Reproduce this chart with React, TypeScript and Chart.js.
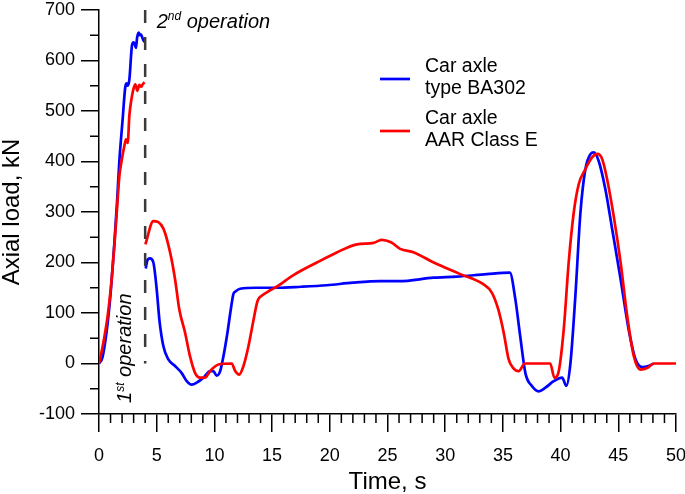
import React, { useEffect, useRef } from 'react';
import { Chart, registerables } from 'chart.js';

Chart.register(...registerables);

// ---- data ----
const blueTime = [
  0, 0.3, 0.75, 1.04, 1.33, 1.56, 1.76, 2.05, 2.28, 2.4, 2.5, 2.63, 2.86, 3.0, 3.1, 3.2, 3.3, 3.44, 3.55, 3.64, 3.79, 3.93, 4.0,
  4.02,
  4.05, 4.2, 4.42, 4.71, 5.0, 5.23, 5.58, 6.01, 6.59, 7.17, 7.6, 8.04, 8.47, 9.05, 9.63, 9.9, 10.2, 10.5, 10.78, 11.13, 11.42,
  11.65, 11.8, 12.23, 13.67, 15.4, 17.5, 19.74, 22, 24.4, 26, 29, 31, 33.6, 35.6, 36.08, 36.5, 36.95, 37.53, 38.1, 38.68,
  39.4, 40.13, 40.5, 40.85, 41.28, 41.72, 42.15, 42.6, 42.87, 43.3, 43.88, 44.47, 45.2, 45.9, 46.5, 47.07, 47.6, 48.08,
];
const blueLoad = [
  0, 12, 80, 148, 238, 318, 400, 484, 548, 555, 550, 562, 630, 636, 632, 625, 645, 655, 650, 652, 643, 637, 640,
  null,
  188, 205, 208, 200, 147, 87, 34, 8, -5, -19, -35, -42, -38, -28, -15, -15, -24, -15, 14, 61, 107,
  138, 142, 148, 150, 150, 152, 155, 160, 163, 163, 170, 172, 177, 180, 127, 54, -19, -45, -55, -48,
  -35, -28, -44, 0, 134, 299, 385, 415, 418, 401, 345, 266, 167, 67, 8, -7, -5, 0,
];

const redTime = [
  0, 0.32, 0.75, 1.04, 1.33, 1.56, 1.76, 1.95, 2.2, 2.34, 2.49, 2.63, 2.86, 3.0, 3.15, 3.32, 3.5, 3.65, 3.79, 3.95,
  4.0,
  4.02, 4.71, 5.58, 6.16, 6.59, 6.96, 7.46, 7.89, 8.33, 8.76, 9.19, 9.63, 10.35, 11.5, 11.8, 12.14, 12.52, 12.95, 13.38,
  13.67, 13.8, 14.1, 14.83, 15.4, 16.85, 18.88, 20.6, 22.35, 23.8, 24.5, 25.3, 26.1, 27.3, 29, 31.3, 33.3, 34.05, 34.6,
  35.07, 35.5, 35.9, 36.37, 36.9, 39.1, 39.46, 39.8, 40.27, 40.7, 41.14, 41.57, 42.15, 42.73, 43.17, 43.6, 44.03, 44.6,
  45.2, 45.77, 46.35, 46.9, 47.5, 48.08, 50,
];
const redLoad = [
  0, 34, 94, 153, 233, 306, 370, 400, 431, 444, 437, 491, 530, 545, 553, 540, 552, 548, 553, 557,
  null,
  236, 282, 267, 220, 167, 107, 61, 14, -19, -28, -28, -15, -2, 0, -15, -22, -5, 34, 85,
  118, 127, 134, 145, 152, 175, 200, 220, 236, 239, 245, 240, 227, 220, 200, 177, 157, 140, 107,
  61, 8, -9, -15, 0, 0, -28, -19, 67, 200, 299, 355, 385, 408, 415, 405, 365, 292,
  200, 94, 14, -12, -9, 0, 0,
];

// vertical dashed marker between the two operations
const markerTime = [4, 4];
const markerLoad = [700, 0];

const seriesNames = [
  ['Car axle', 'type BA302'],
  ['Car axle', 'AAR Class E'],
];
const seriesColors = ['#0000ff', '#ff0000'];

const xMin = 0;
const xMax = 50;
const xStep = 5;
const xMinorStep = 1;
const yMin = -100;
const yMax = 700;
const yStep = 100;
const yMinorStep = 50;

const FONT = "'Liberation Sans', Arial, sans-serif";

function pts(t: number[], v: (number | null)[]) {
  return t.map((x, i) => ({ x, y: v[i] }));
}

function drawSup(ctx: CanvasRenderingContext2D, x: number, y: number, base: string, sup: string, rest: string, size: number) {
  ctx.font = `italic ${size}px ${FONT}`;
  ctx.fillText(base, x, y);
  let cx = x + ctx.measureText(base).width;
  const supSize = Math.round(size * 0.62);
  ctx.font = `italic ${supSize}px ${FONT}`;
  ctx.fillText(sup, cx, y - size * 0.38);
  cx += ctx.measureText(sup).width;
  ctx.font = `italic ${size}px ${FONT}`;
  ctx.fillText(rest, cx, y);
}

const overlayPlugin = {
  id: 'overlay',
  afterDraw(chart: any) {
    const ctx: CanvasRenderingContext2D = chart.ctx;
    const xs = chart.scales.x;
    const ys = chart.scales.y;
    const area = chart.chartArea;
    ctx.save();
    // minor ticks
    ctx.strokeStyle = '#000';
    ctx.lineWidth = 1.5;
    ctx.beginPath();
    for (let v = yMin; v <= yMax; v += yMinorStep) {
      if (v % yStep === 0) continue;
      const py = ys.getPixelForValue(v);
      ctx.moveTo(area.left, py);
      ctx.lineTo(area.left - 9, py);
    }
    for (let t = xMin; t <= xMax; t += xMinorStep) {
      if (t % xStep === 0) continue;
      const px = xs.getPixelForValue(t);
      ctx.moveTo(px, area.bottom);
      ctx.lineTo(px, area.bottom + 9);
    }
    ctx.stroke();

    // legend
    const lx = 380;
    const rows = [79, 131];
    ctx.lineWidth = 2.7;
    seriesNames.forEach((lines, i) => {
      const y = rows[i];
      ctx.strokeStyle = seriesColors[i];
      ctx.beginPath();
      ctx.moveTo(lx, y);
      ctx.lineTo(lx + 30, y);
      ctx.stroke();
      ctx.fillStyle = '#000';
      ctx.font = `19.5px ${FONT}`;
      ctx.textBaseline = 'middle';
      ctx.textAlign = 'left';
      lines.forEach((s, j) => ctx.fillText(s, lx + 45, y - 12 + j * 22));
    });

    // annotations
    ctx.fillStyle = '#000';
    ctx.textBaseline = 'alphabetic';
    ctx.textAlign = 'left';
    const ax = xs.getPixelForValue(5.0);
    const ay = ys.getPixelForValue(665);
    drawSup(ctx, ax, ay, '2', 'nd', ' operation', 20);

    const bx = xs.getPixelForValue(2.8);
    const by = ys.getPixelForValue(-78);
    ctx.save();
    ctx.translate(bx, by);
    ctx.rotate(-Math.PI / 2);
    drawSup(ctx, 0, 0, '1', 'st', ' operation', 20);
    ctx.restore();

    ctx.restore();
  },
};

export default function App() {
  const ref = useRef<HTMLCanvasElement>(null);
  useEffect(() => {
    if (!ref.current) return;
    Chart.defaults.font.family = FONT;
    const chart = new Chart(ref.current, {
      type: 'line',
      data: {
        datasets: [
          {
            label: seriesNames[1].join(' '),
            data: pts(redTime, redLoad),
            borderColor: seriesColors[1],
            borderWidth: 2.7,
            pointRadius: 0,
            cubicInterpolationMode: 'monotone',
            spanGaps: false,
            order: 1,
          },
          {
            label: seriesNames[0].join(' '),
            data: pts(blueTime, blueLoad),
            borderColor: seriesColors[0],
            borderWidth: 2.7,
            pointRadius: 0,
            cubicInterpolationMode: 'monotone',
            spanGaps: false,
            order: 2,
          },
          {
            label: 'marker',
            data: pts(markerTime, markerLoad),
            borderColor: '#3a3a3a',
            borderWidth: 2.5,
            borderDash: [13, 14],
            pointRadius: 0,
            order: 0,
          },
        ],
      },
      options: {
        responsive: false,
        animation: false,
        events: [],
        layout: { padding: 0 },
        plugins: { legend: { display: false }, tooltip: { enabled: false } },
        scales: {
          x: {
            type: 'linear',
            min: xMin,
            max: xMax,
            ticks: { stepSize: xStep, font: { size: 18 }, color: '#000', padding: 13, maxRotation: 0, autoSkip: false },
            grid: { drawOnChartArea: false, drawTicks: true, tickLength: 18, color: '#000', lineWidth: 1.5 },
            border: { display: true, color: '#000', width: 1.5 },
            title: { display: true, text: 'Time, s', font: { size: 24, lineHeight: 1 }, color: '#000', padding: 0 },
            afterFit: (s: any) => {
              s.height = 80;
              s.paddingLeft = 0;
              s.paddingRight = 9;
            },
          },
          y: {
            type: 'linear',
            min: yMin,
            max: yMax,
            ticks: { stepSize: yStep, font: { size: 18 }, color: '#000', padding: 6 },
            grid: { drawOnChartArea: false, drawTicks: true, tickLength: 18, color: '#000', lineWidth: 1.5 },
            border: { display: true, color: '#000', width: 1.5 },
            title: { display: true, text: 'Axial load, kN', font: { size: 24, lineHeight: 1 }, color: '#000', padding: { top: 0, bottom: 0 } },
            afterFit: (s: any) => {
              s.width = 99;
              s.paddingTop = 10;
              s.paddingBottom = 0;
            },
          },
        },
      },
      plugins: [overlayPlugin],
    } as any);
    return () => chart.destroy();
  }, []);
  return (
    <div style={{ position: 'fixed', left: 0, top: 0, width: 685, height: 494, background: '#fff' }}>
      <canvas ref={ref} width={685} height={494} />
    </div>
  );
}
